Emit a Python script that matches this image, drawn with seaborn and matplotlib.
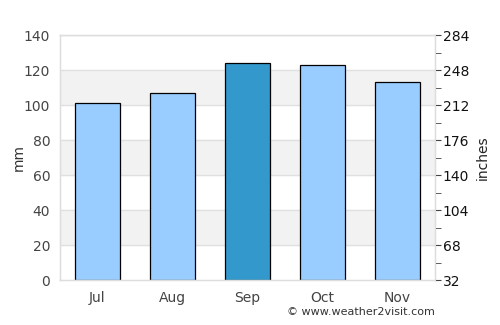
import pandas as pd
import seaborn as sns
import matplotlib.pyplot as plt
from matplotlib.ticker import FixedLocator

# monthly rainfall
months = ['Jul', 'Aug', 'Sep', 'Oct', 'Nov']
rain_mm = [101, 107, 124, 123, 113]
highlight = ['no', 'no', 'yes', 'no', 'no']
right_labels = ['32', '68', '104', '140', '176', '212', '248', '284']

df = pd.DataFrame({'Month': months, 'Rain': rain_mm, 'Hi': highlight})

sns.set_style('white')
plt.rcParams['font.family'] = ['DejaVu Sans']

fig = plt.figure(figsize=(5, 3.25), dpi=100)
ax = fig.add_axes([0.12, 0.138, 0.75, 0.754])

# alternating bands
for lo in [20, 60, 100]:
    ax.axhspan(lo, lo + 20, color='#f2f2f2', zorder=0)
for y in range(20, 141, 20):
    ax.axhline(y, color='#e0e0e0', lw=1, zorder=0.5)

sns.barplot(data=df, x='Month', y='Rain', hue='Hi', palette={'no': '#99ccff', 'yes': '#3399cc'},
            saturation=1, width=0.6, edgecolor='black', linewidth=0.9, legend=False, ax=ax, zorder=2)

ax.set_ylim(0, 140)
ax.set_yticks(range(0, 141, 20))
ax.set_xlabel('')
ax.set_ylabel('mm', color='#333333', fontsize=10)
ax.yaxis.set_label_coords(-0.09, 0.5)
ax.tick_params(axis='x', colors='#444444', labelsize=10, length=0, pad=8)
ax.tick_params(axis='y', colors='#444444', labelsize=10, length=0, pad=7)
for s in ax.spines.values():
    s.set_color('#dddddd')
    s.set_linewidth(1)

ax2 = ax.twinx()
ax2.set_ylim(0, 140)
ax2.set_yticks(range(0, 141, 20))
ax2.set_yticklabels(right_labels)
ax2.yaxis.set_minor_locator(FixedLocator(range(10, 140, 20)))
ax2.tick_params(axis='y', which='major', length=4, colors='#444444', labelcolor='#111111', labelsize=10, pad=1.5)
ax2.tick_params(axis='y', which='minor', length=4, colors='#444444')
ax2.set_ylabel('inches', color='#222222', fontsize=10)
ax2.yaxis.set_label_coords(1.109, 0.5)
for s in ax2.spines.values():
    s.set_color('#dddddd')

fig.text(0.87, 0.025, '© www.weather2visit.com', ha='right', va='bottom', fontsize=8, color='#333333')

plt.savefig('out.png', dpi=100)
